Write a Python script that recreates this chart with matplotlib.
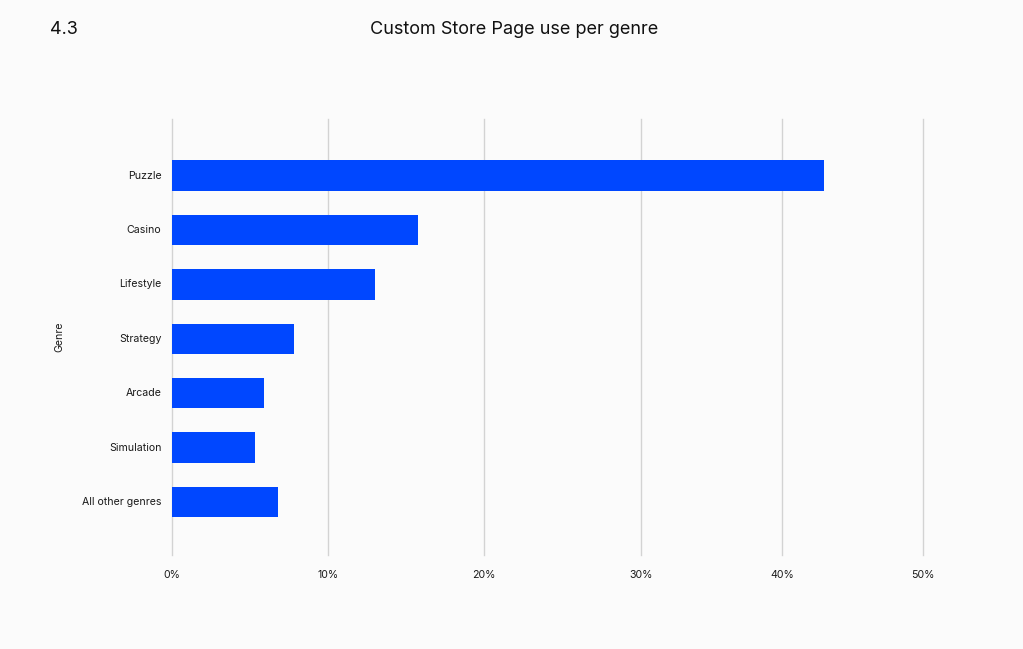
import numpy as np
import matplotlib.pyplot as plt

plt.rcParams['font.family'] = ['Inter', 'DejaVu Sans']

genres = ['Puzzle', 'Casino', 'Lifestyle', 'Strategy', 'Arcade', 'Simulation', 'All other genres']
share = [43.0, 15.8, 13.0, 7.8, 5.9, 5.3, 6.8]
ticks = [0, 10, 20, 30, 40, 50]
tick_labels = ['0%', '10%', '20%', '30%', '40%', '50%']

# the source axis is not evenly spaced, map ticks to where they sit
tick_px = [0, 156, 312, 469, 610, 751]
fwd = lambda v: np.interp(v, ticks, tick_px)
inv = lambda p: np.interp(p, tick_px, ticks)

fig = plt.figure(figsize=(10.23, 6.49), dpi=100, facecolor='#fbfbfb')
ax = fig.add_axes([0.168, 0.1448, 0.734, 0.6718])
ax.set_facecolor('#fbfbfb')
ax.set_xscale('function', functions=(fwd, inv))

y = np.arange(len(genres))
ax.barh(y, share, height=0.56, color='#0047ff', zorder=3)

ax.set_xlim(0, 50)
ax.set_ylim(6.975, -1.04)
ax.set_xticks(ticks)
ax.set_xticklabels(tick_labels)
ax.set_yticks(y)
ax.set_yticklabels(genres, va='center')
ax.tick_params(length=0, labelsize=7.6, colors='#1a1a1a')
ax.tick_params(axis='x', pad=11)
ax.tick_params(axis='y', pad=7.5)
ax.xaxis.grid(True, color='#d3d3d3', linewidth=1, zorder=0)
for g in ax.get_xgridlines():
    g.set_clip_on(False)
for s in ax.spines.values():
    s.set_visible(False)

ax.set_ylabel('Genre', fontsize=7.6, color='#1a1a1a', labelpad=13)

fig.text(0.049, 0.955, '4.3', fontsize=13, va='center', ha='left', color='#111111')
fig.text(0.503, 0.955, 'Custom Store Page use per genre', fontsize=13, va='center', ha='center', color='#111111')

fig.savefig('out.png', dpi=100, facecolor=fig.get_facecolor())
